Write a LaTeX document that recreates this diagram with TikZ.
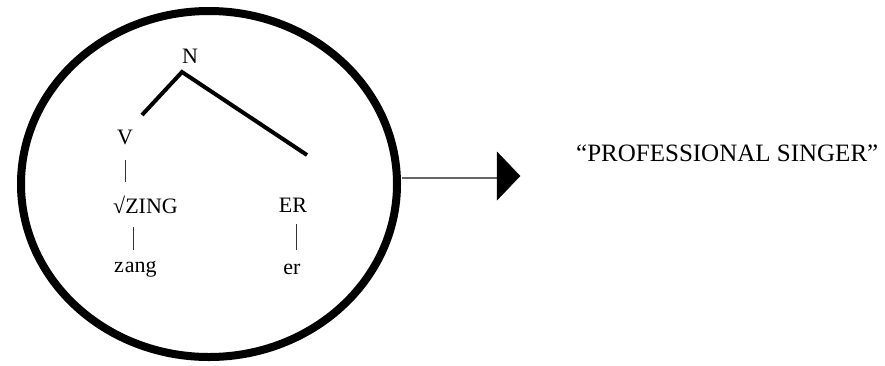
\documentclass[tikz,border=0pt]{standalone}
\usepackage{fontspec}
\setmainfont{Liberation Serif}
\begin{document}
\begin{tikzpicture}[x=1pt,y=-1pt,
  lbl/.style={inner sep=0pt, font=\fontsize{22}{24}\selectfont},
  thick branch/.style={line width=4pt, line cap=butt},
  thin branch/.style={line width=0.9pt, black!80},
  arrowline/.style={line width=2.2pt, black!60},
  headtri/.style={fill=black, draw=black, line width=0.5pt}]
\useasboundingbox (0,0) rectangle (885,365);
% circle
\draw[line width=8pt] (209,184) ellipse [x radius=188, y radius=173];
% tree labels
\node[lbl] (N) at (190,56) {N};
\node[lbl] (V) at (125,137) {V};
\node[lbl, anchor=west] (zing) at (113,205) {√ZING};
\node[lbl] (ER) at (293,205) {ER};
\node[lbl, anchor=west] (zang) at (114,269) {z\kern1pt ang};
\node[lbl] (er) at (292,269) {er};
% branch coordinates
\coordinate (apex) at (182,72);
\coordinate (vtop) at (142,115);
\coordinate (ertop) at (307,155);
\draw[thick branch] (vtop) -- (apex) -- (ertop);
\coordinate (v1) at (125,160);
\coordinate (v2) at (125,182);
\draw[thin branch] (v1) -- (v2);
\coordinate (z1) at (133,227);
\coordinate (z2) at (133,250);
\draw[thin branch] (z1) -- (z2);
\coordinate (e1) at (296,224);
\coordinate (e2) at (296,250);
\draw[thin branch] (e1) -- (e2);
% arrow
\coordinate (astart) at (402,178);
\coordinate (aend) at (498,178);
\draw[arrowline] (astart) -- (aend);
\coordinate (h1) at (497,152);
\coordinate (h2) at (520,176);
\coordinate (h3) at (497,200);
\draw[headtri] (h1) -- (h2) -- (h3) -- cycle;
% meaning
\node[inner sep=0pt, anchor=west, font=\fontsize{25}{28}\selectfont] (mean) at (576,153) {“PROFESSIONAL SINGER”};
\end{tikzpicture}
\end{document}
